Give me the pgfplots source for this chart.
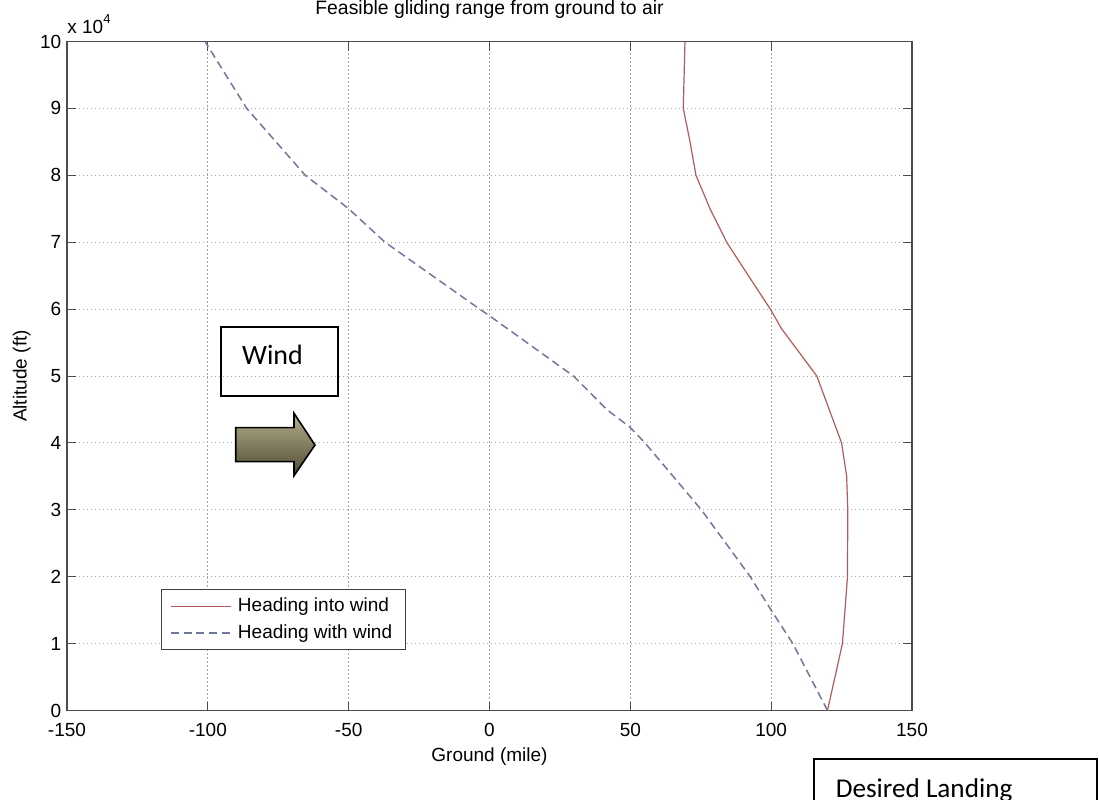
\documentclass[border=0pt]{standalone}
\usepackage{fontspec}
\setmainfont{Liberation Sans}
\newfontfamily\calibri{Carlito}
\usepackage{pgfplots}
\pgfplotsset{compat=1.18}
\usepackage{pgfplotstable}

\definecolor{intowind}{RGB}{180,90,90}
\definecolor{withwind}{RGB}{110,120,155}
\definecolor{gridgray}{RGB}{165,165,165}
\definecolor{arrowtop}{RGB}{182,176,142}
\definecolor{arrowbot}{RGB}{78,73,50}

% ground distance (mile) vs altitude (ft)
\pgfplotstableread{
ground alt
120.0      0
125.3  10000
126.2  15000
127.1  20000
127.2  30000
126.8  35000
125.0  40000
116.2  50000
103.8  57000
 99.7  60000
 91.9  65000
 84.2  70000
 78.3  75000
 73.3  80000
 71.2  85000
 68.8  90000
 69.1  95000
 69.4 100000
}\intowindtab

\pgfplotstableread{
ground alt
 120.0      0
 107.7  10000
 100.0  15000
  92.6  20000
  75.2  30000
  55.2  40000
  50.0  42300
  41.6  45000
  29.8  50000
   0.0  59000
  -3.5  60000
 -37.1  70000
 -50.0  75000
 -65.4  80000
 -86.2  90000
-101.0 100000
}\withwindtab

\begin{document}
\begin{tikzpicture}
\clip (0,0) rectangle (549.5pt,399.5pt);
\begin{axis}[
  at={(33.5pt,44.25pt)}, anchor=south west,
  scale only axis, width=422.5pt, height=334.5pt,
  clip=false,
  xmin=-150, xmax=150, ymin=0, ymax=100000,
  xtick={-150,-100,...,150},
  xticklabels={-150,-100,-50,0,50,100,150},
  ytick={0,10000,...,100000},
  yticklabels={0,1,2,3,4,5,6,7,8,9,10},
  scaled y ticks=false,
  tick pos=both, xticklabel pos=lower, yticklabel pos=left,
  tick align=inside, major tick length=4.5pt,
  tick style={black!70, line width=0.5pt},
  axis line style={black!70, line width=0.6pt},
  grid=major,
  major grid style={gridgray, line width=0.45pt, dash pattern=on 0.7pt off 1.3pt},
  tick label style={font=\fontsize{9.5}{11}\selectfont},
  xticklabel style={anchor=base, yshift=-13.1pt},
  yticklabel style={anchor=east, inner sep=0pt, xshift=-2.65pt},
  title={Feasible gliding range from ground to air},
  title style={at={(0.5,1)}, anchor=base, yshift=7.25pt, font=\fontsize{9.7}{11}\selectfont},
  xlabel={Ground (mile)},
  every axis x label/.style={at={(rel axis cs:0.5,0)}, anchor=base, yshift=-25.25pt, font=\fontsize{9.5}{11}\selectfont},
  ylabel={Altitude (ft)},
  every axis y label/.style={at={(rel axis cs:0,0.5)}, xshift=-22.65pt, rotate=90, anchor=center, font=\fontsize{9.5}{11}\selectfont},
  legend style={at={(0.1112,0.1812)}, anchor=north west, draw=black!75, line width=0.5pt,
    font=\fontsize{9.5}{11}\selectfont, inner xsep=4.5pt, inner ysep=2pt, row sep=1pt,
    cells={anchor=west}},
  legend image code/.code={\draw[#1] (0pt,0pt) -- (30pt,0pt);},
  /tikz/every odd column/.append style={column sep=1pt},
]
\addplot[intowind, line width=0.6pt] table[x=ground, y=alt] {\intowindtab};
\addlegendentry{Heading into wind}
\addplot[withwind, line width=0.75pt, dash pattern=on 4pt off 2.3pt] table[x=ground, y=alt] {\withwindtab};
\addlegendentry{Heading with wind}
\node[anchor=base west, inner sep=0pt, font=\fontsize{9.5}{11}\selectfont, yshift=4pt]
  at (rel axis cs:0,1) {x 10\raisebox{0.55em}{\fontsize{6.5}{7}\selectfont 4}};
\end{axis}

\begin{scope}[x=0.5pt, y=0.5pt]
  % wind label and direction arrow
  \draw[line width=1pt] (220.7,403) rectangle (337.7,471.7);
  \node[anchor=base west, inner sep=0pt, font=\calibri\fontsize{14}{16}\selectfont] at (241.7,434) {Wind};
  \shade[top color=arrowtop, bottom color=arrowbot, draw=black, line width=0.8pt]
    (235.7,371.3) -- (294,371.3) -- (294,385.7) -- (315,354) -- (294,323.3)
    -- (294,337.3) -- (235.7,337.3) -- cycle;
  % landing note box
  \draw[line width=1pt] (814.4,-20) -- (814.4,39.7) -- (1097,39.7) -- (1097,-20);
  \node[anchor=base west, inner sep=0pt, font=\calibri\fontsize{13.6}{16}\selectfont] at (835.4,2) {Desired Landing};
\end{scope}
\end{tikzpicture}
\end{document}
